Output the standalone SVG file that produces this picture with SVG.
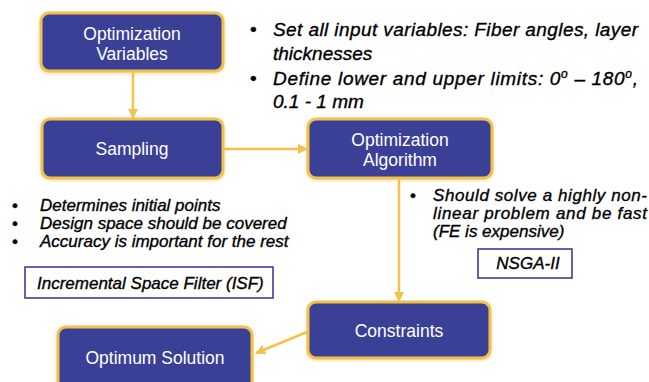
<svg xmlns="http://www.w3.org/2000/svg" width="649" height="382" viewBox="0 0 649 382">
<defs>
<style>
.node rect{fill:#3b3f97;stroke:#f2c14e;stroke-width:3;filter:url(#glow)}
.node text{fill:#fff;font-family:"Liberation Sans",Arial,sans-serif;font-size:17.5px;text-anchor:middle}
.conn{stroke:#f2c14e;stroke-width:2.5;fill:none;marker-end:url(#arr)}
.note{font-family:"Liberation Sans",Arial,sans-serif;font-style:italic;fill:#000;stroke:#000;stroke-width:0.35}
.box{fill:#fff;stroke:#2e3192;stroke-width:1.5}
</style>
<filter id="glow" x="-10%" y="-20%" width="120%" height="140%">
<feGaussianBlur in="SourceAlpha" stdDeviation="1.5"/>
<feOffset dx="0" dy="1" result="b"/>
<feFlood flood-color="#f2c14e" flood-opacity="0.6"/>
<feComposite in2="b" operator="in"/>
<feMerge><feMergeNode/><feMergeNode in="SourceGraphic"/></feMerge>
</filter>
<marker id="arr" viewBox="0 0 10 10" refX="9" refY="5" markerWidth="4" markerHeight="4" orient="auto" markerUnits="strokeWidth">
<path d="M0,0 L10,5 L0,10 z" fill="#f2c14e"/>
</marker>
</defs>
<rect width="649" height="382" fill="#fff"/>
<g id="connectors">
<line class="conn" x1="133" y1="72" x2="133" y2="118"/>
<line class="conn" x1="224" y1="149" x2="307" y2="149"/>
<line class="conn" x1="399" y1="179" x2="399" y2="301"/>
<line class="conn" x1="307" y1="332" x2="256" y2="353"/>
</g>
<g id="n-optvars" class="node">
<rect x="41" y="13" width="182" height="58" rx="8"/>
<text x="132" y="40">Optimization</text>
<text x="132" y="60">Variables</text>
</g>
<g id="n-sampling" class="node">
<rect x="42" y="119" width="181" height="59" rx="8"/>
<text x="132" y="155">Sampling</text>
</g>
<g id="n-optalg" class="node">
<rect x="308" y="119" width="184" height="59" rx="8"/>
<text x="400" y="146">Optimization</text>
<text x="400" y="166">Algorithm</text>
</g>
<g id="n-constraints" class="node">
<rect x="308" y="302" width="182" height="56" rx="8"/>
<text x="399" y="337">Constraints</text>
</g>
<g id="n-optimum" class="node">
<rect x="58" y="327" width="194" height="70" rx="8"/>
<text x="155" y="364">Optimum Solution</text>
</g>
<g id="notes-top" class="note" font-size="19">
<text x="250" y="36" font-style="normal">•</text>
<text x="273" y="36" textLength="365" lengthAdjust="spacing">Set all input variables: Fiber angles, layer</text>
<text x="273" y="60">thicknesses</text>
<text x="250" y="85" font-style="normal">•</text>
<text x="273" y="85" textLength="365" lengthAdjust="spacing">Define lower and upper limits: 0<tspan font-size="12" dy="-7">o</tspan><tspan dy="7"> – 180</tspan><tspan font-size="12" dy="-7">o</tspan><tspan dy="7">,</tspan></text>
<text x="273" y="108">0.1 - 1 mm</text>
</g>
<g id="notes-left" class="note" font-size="17">
<text x="12" y="211" font-style="normal">•</text>
<text x="40" y="211">Determines initial points</text>
<text x="12" y="229" font-style="normal">•</text>
<text x="40" y="229">Design space should be covered</text>
<text x="12" y="247" font-style="normal">•</text>
<text x="40" y="247">Accuracy is important for the rest</text>
</g>
<g id="isf">
<rect class="box" x="25" y="267" width="248" height="31"/>
<text class="note" x="37" y="289" font-size="17">Incremental Space Filter (ISF)</text>
</g>
<g id="notes-right" class="note" font-size="17">
<text x="410" y="201" font-style="normal">•</text>
<text x="433" y="201" textLength="214" lengthAdjust="spacing">Should solve a highly non-</text>
<text x="433" y="219" textLength="214" lengthAdjust="spacing">linear problem and be fast</text>
<text x="433" y="237">(FE is expensive)</text>
</g>
<g id="nsga">
<rect class="box" x="478" y="249" width="94" height="29"/>
<text class="note" x="528" y="269" font-size="17" text-anchor="middle">NSGA-II</text>
</g>
</svg>
